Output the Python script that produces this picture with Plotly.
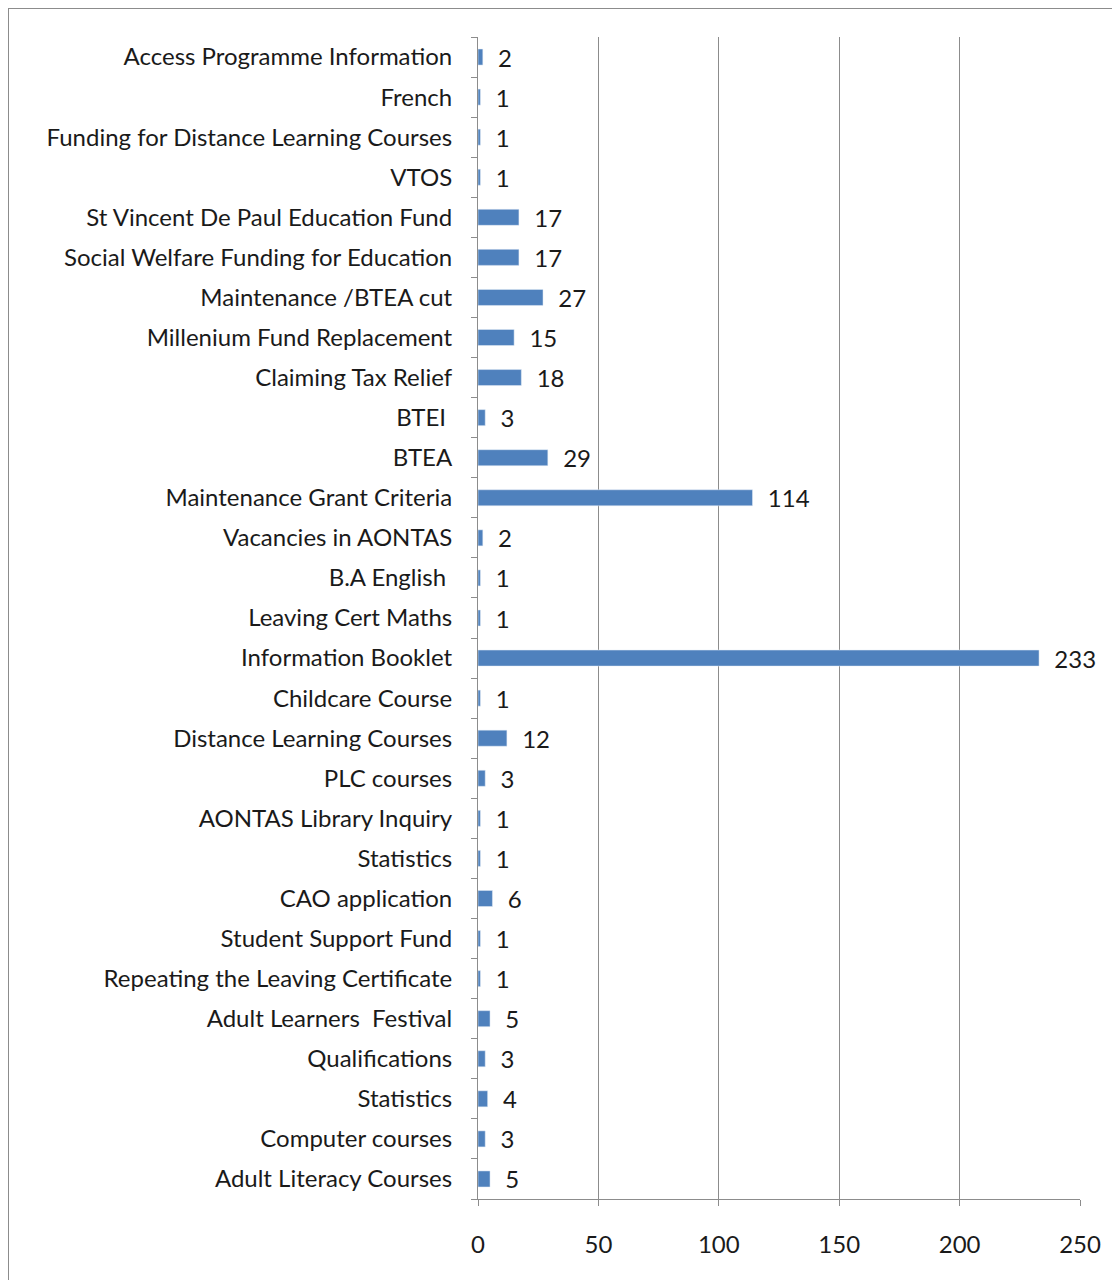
import plotly.graph_objects as go

categories = [
    "Access Programme Information", "French", "Funding for Distance Learning Courses",
    "VTOS", "St Vincent De Paul Education Fund", "Social Welfare Funding for Education",
    "Maintenance /BTEA cut", "Millenium Fund Replacement", "Claiming Tax Relief",
    "BTEI\u00a0", "BTEA", "Maintenance Grant Criteria", "Vacancies in AONTAS",
    "B.A English\u00a0", "Leaving Cert Maths", "Information Booklet", "Childcare Course",
    "Distance Learning Courses", "PLC courses", "AONTAS Library Inquiry", "Statistics",
    "CAO application", "Student Support Fund", "Repeating the Leaving Certificate",
    "Adult Learners  Festival", "Qualifications", "Statistics", "Computer courses",
    "Adult Literacy Courses",
]
values = [2, 1, 1, 1, 17, 17, 27, 15, 18, 3, 29, 114, 2, 1, 1, 233, 1, 12, 3, 1, 1, 6, 1, 1, 5, 3, 4, 3, 5]
x_ticks = [0, 50, 100, 150, 200, 250]

positions = list(range(len(categories)))
FONT = "Lato, 'Open Sans', sans-serif"
FS = 24
TXT = "#1a1a1a"

fig = go.Figure(go.Bar(
    x=values, y=positions, orientation="h",
    marker=dict(color="#4F81BD"),
    width=0.4,
    text=values,
    texttemplate="\u00a0\u00a0%{x}",
    textposition="outside",
    constraintext="none",
    textfont=dict(size=FS, color=TXT, family=FONT),
    cliponaxis=False,
))

# page has 8px body margin, so offset by -8
OFF = 8
W, H = 1120, 1280
L, T = 478 - OFF, 37 - OFF
R = W - (1080 - OFF)
B = H - (1199 - OFF)
pw = W - L - R
ph = H - T - B

fig.update_layout(
    width=W, height=H,
    margin=dict(l=L, r=R, t=T, b=B),
    plot_bgcolor="white", paper_bgcolor="white",
    showlegend=False,
    font=dict(family=FONT, size=FS, color=TXT),
    xaxis=dict(
        range=[0, 250], tickvals=x_ticks, showgrid=True, gridcolor="#8c8c8c", gridwidth=1,
        showline=True, linecolor="#8c8c8c", ticks="outside", ticklen=6, tickcolor="#8c8c8c",
        tickfont=dict(size=FS, color=TXT), zeroline=False, ticklabelstandoff=18,
    ),
    yaxis=dict(
        range=[len(categories) - 0.5, -0.5], tickvals=positions, ticktext=categories,
        ticks="", showgrid=False, showline=True, linecolor="#8c8c8c", zeroline=False,
        tickfont=dict(size=FS, color=TXT), ticklabelstandoff=20,
        minor=dict(tickvals=[p - 0.5 for p in positions] + [len(categories) - 0.5],
                   ticks="outside", ticklen=6, tickcolor="#8c8c8c", showgrid=False),
    ),
    shapes=[dict(
        type="rect", xref="paper", yref="paper",
        x0=(8 - OFF - L) / pw, x1=(1140 - L) / pw,
        y0=1 - (1300 - T) / ph, y1=1 + (T - (8 - OFF)) / ph,
        line=dict(color="#8c8c8c", width=2), fillcolor="rgba(0,0,0,0)", layer="below",
    )],
)

fig.write_html("out.html")
